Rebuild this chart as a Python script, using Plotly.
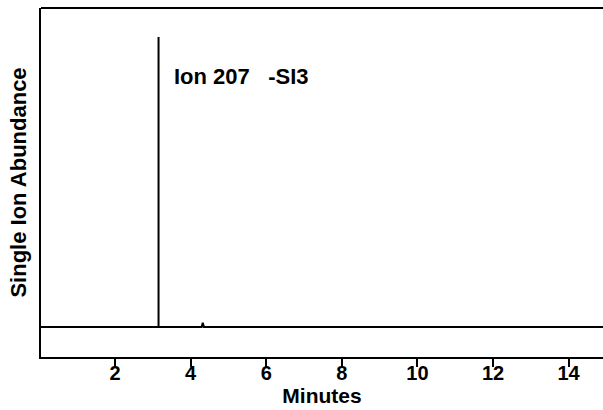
import plotly.graph_objects as go

# Chromatogram trace (minutes vs relative abundance)
times = [0.0, 3.15, 3.15, 3.15, 4.29, 4.32, 4.35, 15.0]
abundance = [0, 0, 100, 0, 0, 1.5, 0, 0]
tick_vals = [2, 4, 6, 8, 10, 12, 14]
tick_text = ["2", "4", "6", "8", "10", "12", "14"]
label = "Ion 207   -SI3"

FONT = "Liberation Sans, Arial"

fig = go.Figure()
fig.add_trace(go.Scatter(x=times, y=abundance, mode="lines",
                         line=dict(color="black", width=2), hoverinfo="skip"))

fig.add_annotation(x=3.5, y=86.5, xref="x", yref="y", text=label, showarrow=False,
                   xanchor="left", yanchor="middle",
                   font=dict(family=FONT, size=22, color="black", weight="bold"))

fig.add_shape(type="line", xref="paper", yref="paper", x0=0, x1=1, y0=1, y1=1,
              line=dict(color="black", width=2))

fig.update_layout(
    width=603, height=410,
    margin=dict(l=41, r=0, t=8, b=53),
    paper_bgcolor="white", plot_bgcolor="white",
    showlegend=False,
    xaxis=dict(range=[0.04, 14.91], tickvals=tick_vals, ticktext=tick_text,
               ticks="outside", ticklen=8, tickwidth=2, tickcolor="black",
               ticklabelstandoff=-11,
               showline=True, linecolor="black", linewidth=2,
               showgrid=False, zeroline=False,
               tickfont=dict(family=FONT, size=20, color="black", weight="bold"),
               title=dict(text="Minutes", standoff=0,
                          font=dict(family=FONT, size=21, color="black", weight="bold"))),
    yaxis=dict(range=[-10.3, 110], showticklabels=False, ticks="",
               showline=True, linecolor="black", linewidth=2,
               showgrid=False, zeroline=False,
               title=dict(text="Single Ion Abundance", standoff=6,
                          font=dict(family=FONT, size=22, color="black", weight="bold"))),
)

fig.write_html("out.html")
